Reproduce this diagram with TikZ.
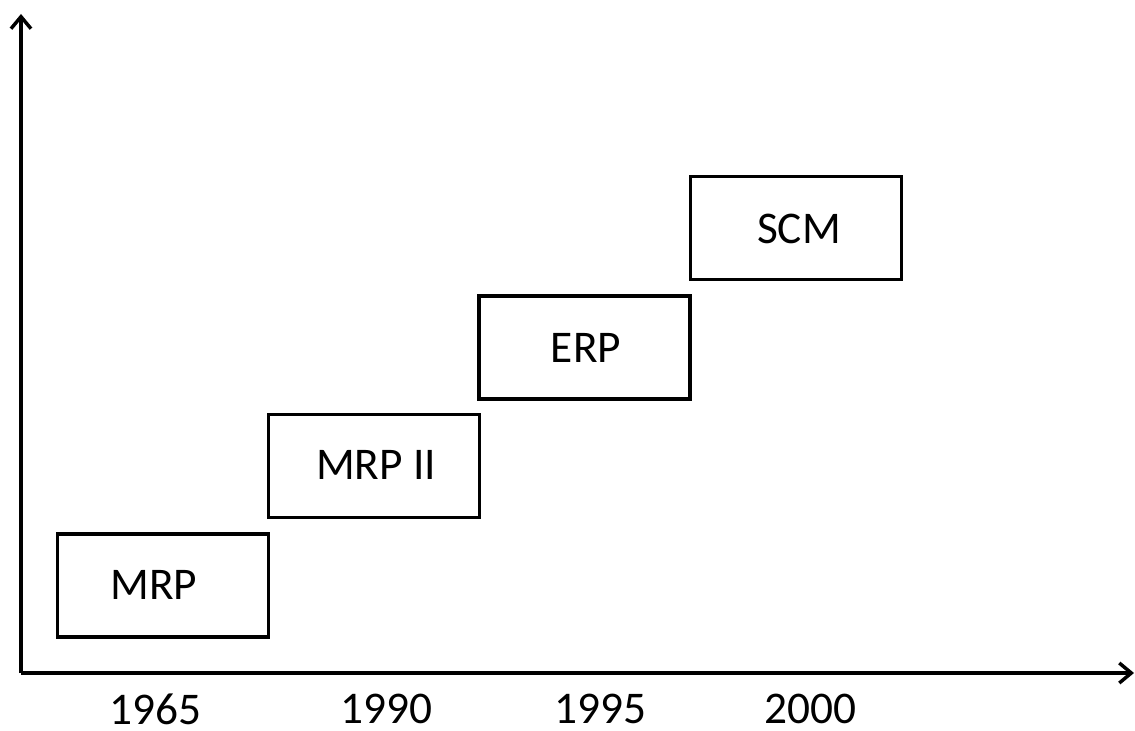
\documentclass[tikz,border=0pt]{standalone}
\usepackage{fontspec}
\setmainfont{Carlito}
\usetikzlibrary{arrows.meta}
\begin{document}
\begin{tikzpicture}[x=0.75pt,y=-0.75pt,
  axis/.style={line width=2.6pt,-{Straight Barb[length=9pt,width=15pt,line width=2.6pt]}},
  box/.style={draw,line width=2.6pt,minimum width=211*0.75pt,minimum height=103*0.75pt,inner sep=0pt},
  lbl/.style={font=\fontsize{34}{40}\selectfont,inner sep=0pt},
  year/.style={font=\fontsize{34}{40}\selectfont,inner sep=0pt}]
\useasboundingbox (0,0) rectangle (1135,731);
\coordinate (O) at (21,673);
\coordinate (Ytop) at (21,14);
\coordinate (Xend) at (1134,673);
\draw[axis] (O) -- (Ytop);
\draw[axis] (O) -- (Xend);
\node[box] (b1) at (163,585.5) {};
\node[box] (b2) at (374,466) {};
\node[box] (b3) at (584.5,347.5) {};
\node[box] (b4) at (796,228) {};
\node[lbl] (t1) at (154,585) {MRP};
\node[lbl] (t2) at (376,465) {MRP II};
\node[lbl] (t3) at (586,348) {ERP};
\node[lbl] (t4) at (799,229) {SCM};
\node[year] (y1) at (155,709) {1965};
\node[year] (y2) at (386,709) {1990};
\node[year] (y3) at (600,709) {1995};
\node[year] (y4) at (810,709) {2000};
\end{tikzpicture}
\end{document}
